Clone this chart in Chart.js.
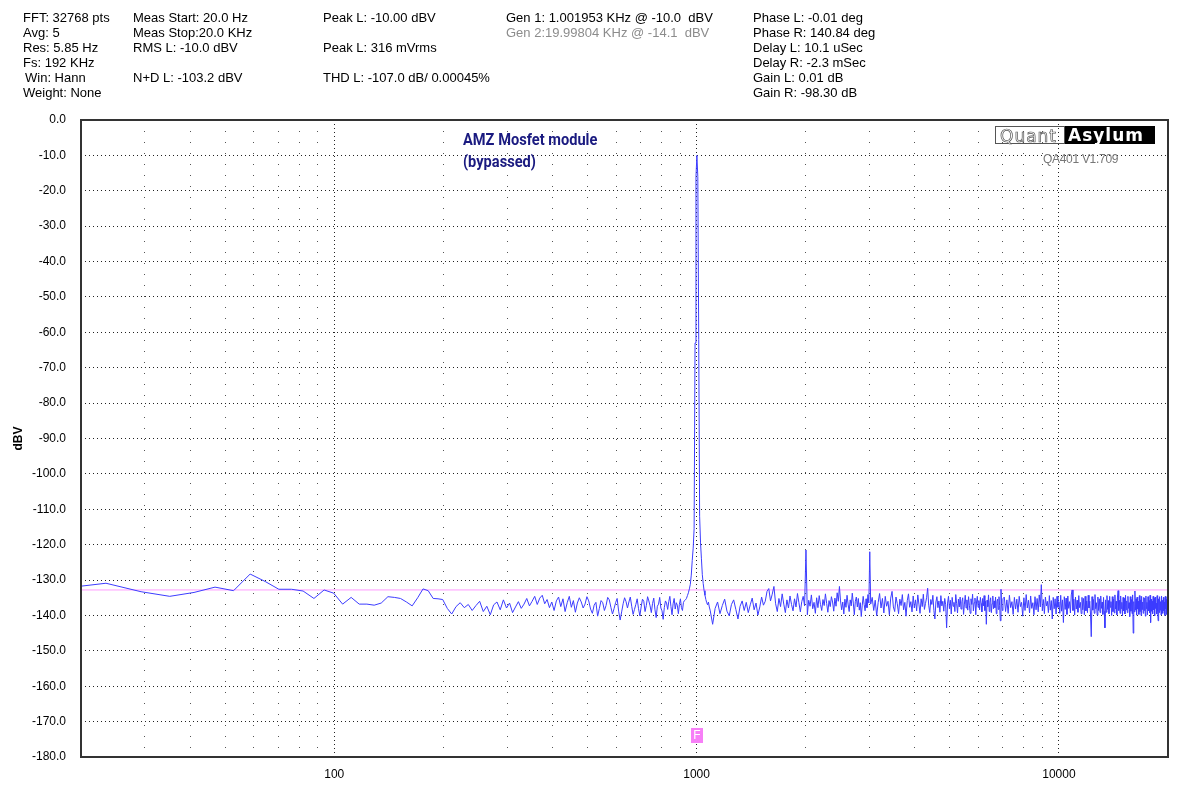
<!DOCTYPE html>
<html>
<head>
<meta charset="utf-8">
<title>QA401 FFT</title>
<script src="https://cdn.jsdelivr.net/npm/chart.js@4.4.1/dist/chart.umd.min.js"></script>
<style>
  html, body { margin: 0; padding: 0; background: #fff; }
  #wrap { position: relative; width: 1200px; height: 791px; overflow: hidden; }
  #fft { position: absolute; left: 0; top: 0; }
  .info { position: absolute; top: 10px; font: 13px "Liberation Sans", Arial, sans-serif; line-height: 15px; color: #000; white-space: pre; }
  .grey { color: #8c8c8c; }
  #titel { position: absolute; left: 463px; top: 128px; font: 700 17px Roboto, sans-serif; line-height: 22px; color: #1a1a80; transform: scaleX(0.86); transform-origin: left top; white-space: pre; }
  #logo { position: absolute; left: 995px; top: 126px; height: 18px; display: flex; font-size: 17px; line-height: 18px; }
  #logo .q { width: 70px; border: 1px solid #555; box-sizing: border-box; color: #fff; -webkit-text-stroke: 0.7px #555; font-family: "DejaVu Sans", sans-serif; letter-spacing: 1px; padding-left: 4px; }
  #logo .a { width: 90px; background: #000; color: #fff; font-family: "DejaVu Sans", sans-serif; font-weight: 700; letter-spacing: 1px; padding-left: 3px; box-sizing: border-box; }
  #version { position: absolute; left: 1043px; top: 152px; font: 12px "Liberation Sans", Arial, sans-serif; color: #777; letter-spacing: -0.3px; }
</style>
</head>
<body>
<div id="wrap">
  <canvas id="fft" width="1200" height="791"></canvas>
  <div class="info" style="left:23px">FFT: 32768 pts
Avg: 5
Res: 5.85 Hz
Fs: 192 KHz
<span style="padding-left:2px">Win: Hann</span>
Weight: None</div>
  <div class="info" style="left:133px">Meas Start: 20.0 Hz
Meas Stop:20.0 KHz
RMS L: -10.0 dBV

N+D L: -103.2 dBV</div>
  <div class="info" style="left:323px">Peak L: -10.00 dBV

Peak L: 316 mVrms

THD L: -107.0 dB/ 0.00045%</div>
  <div class="info" style="left:506px">Gen 1: 1.001953 KHz @ -10.0  dBV
<span class="grey">Gen 2:19.99804 KHz @ -14.1  dBV</span></div>
  <div class="info" style="left:753px">Phase L: -0.01 deg
Phase R: 140.84 deg
Delay L: 10.1 uSec
Delay R: -2.3 mSec
Gain L: 0.01 dB
Gain R: -98.30 dB</div>
  <div id="titel">AMZ Mosfet module
(bypassed)</div>
  <div id="logo"><span class="q">Quant</span><span class="a">Asylum</span></div>
  <div id="version">QA401 V1.709</div>
</div>
<script>
// FFT-Raster: 192 kHz / 32768 Punkte
const binHz = 192000 / 32768;

// Pegel in dBV; Bins 3..165, jeder Bin
const lowStart = 3;
const lowDb = [
  -132.4, -130.9, -133.3, -134.6, -133.5, -132.0, -133.0, -128.3, -130.4, -132.6,
  -132.6, -133.1, -135.2, -132.8, -133.7, -136.8, -134.9, -136.8, -136.8, -137.1,
  -136.5, -134.7, -134.9, -135.2, -136.2, -137.3, -135.0, -132.5, -133.0, -135.2,
  -135.3, -135.5, -138.0, -139.6, -137.5,
  -136.4, -137.8, -136.9, -138.6, -137.2, -136.0, -138.9, -137.4, -139.8, -137.0,
  -136.2, -138.4, -135.6, -137.9, -136.5, -139.2, -137.6, -136.1, -138.0, -136.8,
  -135.2, -137.3, -136.0, -134.6, -136.9, -135.1, -134.3, -136.7, -135.5, -137.8,
  -136.2, -138.6, -135.9, -134.8, -137.5, -135.3, -138.9, -136.4, -134.6, -137.7,
  -135.8, -139.1, -136.5,
  -135.0, -136.2, -137.9, -136.8, -134.7, -135.9, -138.2, -139.4, -137.1, -136.3,
  -140.2, -138.0, -135.8, -136.4, -138.6, -137.2, -134.9, -135.6, -137.7, -139.6,
  -138.1, -136.4, -135.2, -138.8, -141.3, -139.0, -136.7, -135.0, -136.1, -137.9,
  -136.2, -134.8, -137.4, -139.7, -138.3, -136.9, -135.3, -138.1, -140.1, -137.6,
  -135.4, -136.0, -138.9, -137.2, -134.7, -135.9, -137.3, -139.2, -136.6, -135.1,
  -138.4, -140.6, -137.4, -136.8, -134.9, -137.9, -138.7, -141.1, -137.8, -135.9,
  -136.5, -138.3, -136.1, -134.6, -137.5, -139.8, -136.7, -135.2, -138.2, -136.4,
  -137.1, -139.5, -136.9, -135.3, -137.8, -138.6, -136.3, -135.8, -135.6, -135.2,
  -134.4, -133.6, -132.5, -131.2, -128.6
];

// Grundton 1 kHz, Bins 166..186
const peakStart = 166;
const peakDb = [
  -124.5, -121.0, -115.5, -63.0, -16.0, -10.0, -16.0, -62.0, -112.0, -119.5,
  -124.0, -128.5, -131.0, -133.0, -134.3, -135.5, -136.4, -137.0, -136.2, -137.6,
  -138.5
];

// 1.1 kHz .. 3 kHz, jeder 3. Bin (mit K2 und K3)
const midStart = 189;
const midStep = 3;
const midDb = [
  -142.5, -138.0, -136.2, -139.5, -137.2, -135.4, -138.8, -140.1, -136.9, -135.6,
  -138.3, -141.0, -137.4, -135.9, -138.6, -136.3, -139.2, -137.0, -135.1, -138.4,
  -136.5, -139.9, -137.6, -134.8, -137.1, -136.0, -133.2, -132.4, -135.9, -134.0,
  -131.8, -136.7, -138.9, -135.2, -137.5, -133.9, -136.8, -139.2, -135.6, -137.9,
  -134.5, -136.9, -138.7, -135.3, -137.6, -133.8, -136.4, -139.0, -136.1, -134.6,
  -137.3, -121.5, -139.8, -135.7, -137.4, -134.2, -138.1, -136.3, -139.4, -135.0,
  -137.8, -134.4, -136.9, -138.6, -135.5, -137.2, -133.9, -136.6, -139.1, -135.8,
  -137.5, -134.7, -136.2, -138.8, -135.1, -137.4, -133.6, -136.0, -131.8, -135.9,
  -138.4, -136.2, -139.6, -135.4, -137.7, -134.3, -136.8, -138.9, -135.6, -137.3,
  -133.7, -136.5, -139.8, -136.0, -134.8, -137.6, -135.2, -138.5, -136.4, -140.3,
  -137.1, -134.6, -136.9, -138.7, -135.3, -137.8, -134.1, -136.5, -122.0
];

// 3 kHz .. 7 kHz, jeder 5. Bin
const upperStart = 516;
const upperStep = 5;
const upperDb = [
  -136.8, -134.9, -138.6, -135.7, -140.1, -136.4, -133.8, -137.9, -135.2, -139.3,
  -134.6, -137.4, -136.0, -139.8, -135.1, -133.2, -137.6, -138.9, -134.8, -136.7,
  -139.5, -135.4, -137.2, -134.1, -138.4, -136.3, -140.2, -135.8, -133.9, -137.7,
  -136.1, -139.0, -134.5, -137.9, -135.6, -138.7, -134.2, -136.8, -139.4, -135.3,
  -137.5, -134.0, -138.3, -136.6, -135.0, -132.3, -137.1, -139.2, -135.5, -136.9,
  -134.3, -138.6, -141.0, -136.2, -134.7, -137.8, -135.9, -139.1, -134.4, -137.3,
  -136.0, -138.8, -135.2, -137.0, -143.5, -136.5, -134.6, -138.1, -135.7, -139.6,
  -134.9, -137.4, -136.3, -138.9, -134.1, -136.7, -139.3, -135.4, -137.6, -134.8,
  -138.2, -136.1, -135.0, -139.7, -136.8, -134.3, -137.9, -135.6, -138.5, -134.7,
  -137.1, -139.4, -135.3, -136.9, -134.0, -138.7, -136.4, -135.1, -139.8, -136.2,
  -134.6, -137.7, -135.8, -138.4, -134.9, -136.6, -139.0, -135.2, -137.3, -134.4,
  -138.6, -136.0, -142.5, -135.7, -137.5, -134.2, -138.9, -136.3, -135.0, -139.2,
  -136.7, -134.5, -138.1, -135.9, -137.8, -134.8, -139.5, -136.1, -135.4, -138.3,
  -134.7, -137.2, -141.5, -132.6, -136.8, -138.6, -135.3
];

// 7 kHz .. 20 kHz, jeder 10. Bin
const topStart = 1206;
const topStep = 10;
const topDb = [
  -134.8, -138.9, -135.6, -139.4, -134.3, -137.8, -136.1, -139.7, -134.9, -138.2,
  -135.4, -139.1, -134.6, -137.5, -136.3, -140.2, -135.0, -138.6, -134.1, -137.9,
  -135.7, -139.3, -134.5, -138.0, -136.4, -139.8, -134.7, -138.4, -135.2, -139.0,
  -134.2, -137.6, -131.3, -138.7, -135.5, -139.5, -134.8, -137.3, -136.0, -139.2,
  -134.4, -138.5, -135.8, -141.0, -134.9, -138.1, -135.3, -139.6, -134.6, -137.7,
  -136.2, -139.4, -134.3, -138.8, -135.6, -142.0, -134.7, -138.3, -135.1, -139.7,
  -134.5, -138.0, -136.1, -139.3, -134.2, -132.8, -138.6, -135.4, -139.9, -134.8,
  -138.2, -135.7, -139.1, -134.4, -137.8, -136.3, -139.5, -134.9, -138.4, -135.2,
  -139.8, -134.6, -138.7, -135.9, -139.2, -134.3, -137.9, -136.0, -139.6, -146.0,
  -134.7, -138.5, -135.5, -139.4, -134.1, -138.1, -136.4, -139.9, -134.8, -138.6,
  -135.3, -139.2, -134.5, -138.0, -136.2, -139.7, -134.9, -138.8, -143.5, -135.6,
  -139.1, -134.4, -138.3, -135.8, -139.5, -134.6, -137.7, -136.1, -140.0, -134.7,
  -138.9, -135.4, -139.3, -134.2, -138.2, -136.0, -139.8, -134.8, -133.0, -138.6,
  -135.7, -139.4, -134.5, -138.1, -136.3, -140.1, -134.9, -138.7, -135.2, -139.6,
  -134.3, -138.4, -135.9, -139.2, -134.6, -138.0, -136.4, -140.3, -134.7, -138.8,
  -135.5, -139.5, -134.2, -145.0, -136.1, -139.0, -133.1, -138.5, -135.3, -139.9,
  -134.8, -138.2, -136.0, -139.7, -134.4, -138.9, -135.6, -140.0, -134.6, -138.3,
  -136.2, -139.4, -134.9, -138.6, -135.1, -140.2, -134.5, -138.1, -136.3, -139.8,
  -134.7, -138.7, -135.8, -139.3, -134.3, -142.0, -135.4, -138.8, -136.0, -139.5,
  -134.6, -138.4, -135.2, -140.1, -134.8, -138.0, -136.5, -139.6, -134.4, -138.9,
  -141.5, -135.3, -139.2, -134.7, -138.5, -136.1, -139.9, -134.5, -138.3, -135.7,
  -139.4, -134.9, -138.7, -136.2, -140.0, -134.6, -138.1, -135.5, -139.7, -134.8,
  -138.6, -136.0
];

// Rauschreferenz (rosa Linie) und Marker
const refLevelDb = -132.8;
const markerHz = 1000;

// Achsen
const freqMin = 20;
const freqMax = 20000;
const xTickValues = [20, 30, 40, 50, 60, 70, 80, 90, 100, 200, 300, 400, 500, 600, 700, 800, 900,
  1000, 2000, 3000, 4000, 5000, 6000, 7000, 8000, 9000, 10000, 20000];
const xLabelValues = [100, 1000, 10000];
const yMin = -180;
const yMax = 0;

function addSegment(points, startBin, step, values) {
  values.forEach((db, i) => {
    points.push({ x: (startBin + i * step) * binHz, y: db });
  });
}

const spektrum = [];
addSegment(spektrum, lowStart, 1, lowDb);
addSegment(spektrum, peakStart, 1, peakDb);
addSegment(spektrum, midStart, midStep, midDb);
addSegment(spektrum, upperStart, upperStep, upperDb);
addSegment(spektrum, topStart, topStep, topDb);

const labelFont = { family: '"Liberation Sans", Arial, sans-serif', size: 12 };

// Rahmen um den Plotbereich
const rahmenPlugin = {
  id: 'rahmen',
  afterDatasetsDraw(chart) {
    const { ctx, chartArea: a } = chart;
    ctx.save();
    ctx.strokeStyle = '#333';
    ctx.lineWidth = 2;
    ctx.strokeRect(a.left, a.top, a.right - a.left, a.bottom - a.top);
    ctx.restore();
  }
};

// rosa "F"-Marker bei der Grundfrequenz
const markerPlugin = {
  id: 'marker',
  afterDatasetsDraw(chart) {
    const { ctx, scales } = chart;
    const x = Math.round(scales.x.getPixelForValue(markerHz));
    const yTop = scales.y.getPixelForValue(-171.8);
    ctx.save();
    ctx.fillStyle = '#f77ff7';
    ctx.fillRect(x - 6, yTop, 12, 15);
    ctx.fillStyle = '#fff';
    ctx.font = '12px "Liberation Sans", Arial, sans-serif';
    ctx.textAlign = 'center';
    ctx.textBaseline = 'middle';
    ctx.fillText('F', x, yTop + 8);
    ctx.restore();
  }
};

new Chart(document.getElementById('fft'), {
  type: 'line',
  data: {
    datasets: [
      {
        label: 'L',
        data: spektrum,
        borderColor: '#3c3cff',
        borderWidth: 1,
        pointRadius: 0,
        tension: 0,
        fill: false
      },
      {
        label: 'Ref',
        data: [{ x: freqMin, y: refLevelDb }, { x: freqMax, y: refLevelDb }],
        borderColor: '#ff9cff',
        borderWidth: 1,
        pointRadius: 0,
        fill: false
      }
    ]
  },
  options: {
    responsive: false,
    animation: false,
    events: [],
    layout: { padding: { top: 120, right: 32, bottom: 0, left: 0 } },
    plugins: {
      legend: { display: false },
      tooltip: { enabled: false }
    },
    scales: {
      x: {
        type: 'logarithmic',
        min: freqMin,
        max: freqMax,
        afterBuildTicks: (scale) => {
          scale.ticks = xTickValues.map(v => ({ value: v, major: xLabelValues.includes(v) }));
        },
        afterFit: (scale) => { scale.height = 34; },
        ticks: {
          autoSkip: false,
          maxRotation: 0,
          padding: 10,
          color: '#000',
          font: labelFont,
          callback: (v) => (xLabelValues.includes(v) ? String(v) : '')
        },
        grid: {
          drawTicks: false,
          color: (ctx) => (ctx.tick && ctx.tick.major ? '#222' : '#555'),
          lineWidth: 1
        },
        border: {
          display: false,
          dash: (ctx) => (ctx.tick && ctx.tick.major ? [1, 3] : [1, 10])
        }
      },
      y: {
        type: 'linear',
        min: yMin,
        max: yMax,
        afterFit: (scale) => { scale.width = 81; },
        ticks: {
          stepSize: 10,
          autoSkip: false,
          padding: 15,
          color: '#000',
          font: labelFont,
          callback: (v) => v.toFixed(1)
        },
        title: {
          display: true,
          text: 'dBV',
          color: '#000',
          font: { family: '"Liberation Sans", Arial, sans-serif', size: 12, weight: 'bold' },
          padding: { top: 11, bottom: 0 }
        },
        grid: {
          drawTicks: false,
          color: '#222',
          lineWidth: 1
        },
        border: {
          display: false,
          dash: [1, 3]
        }
      }
    }
  },
  plugins: [rahmenPlugin, markerPlugin]
});
</script>
</body>
</html>
